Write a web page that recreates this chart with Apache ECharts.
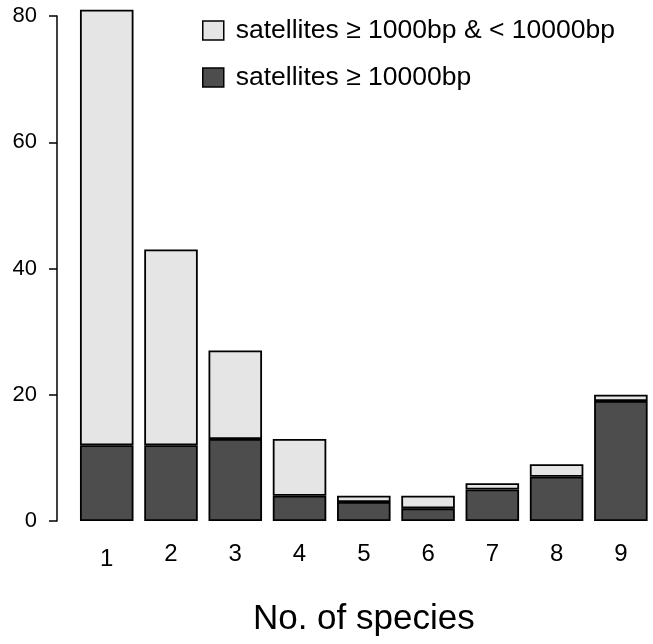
<!DOCTYPE html>
<html>
<head>
<meta charset="utf-8">
<script src="https://cdn.jsdelivr.net/npm/echarts@6/dist/echarts.min.js"></script>
<style>
html,body{margin:0;padding:0;background:#fff;}
#chart{width:653px;height:644px;}
</style>
</head>
<body>
<div id="chart"></div>
<script>
var categories = ['1','2','3','4','5','6','7','8','9'];
var largeSat = [12, 12, 13, 4, 3, 2, 5, 7, 19];       // satellites >= 10000bp
var mediumSat = [69, 31, 14, 9, 1, 2, 1, 2, 1];       // satellites >= 1000bp & < 10000bp
var yTicks = [0, 20, 40, 60, 80];
var seriesNames = ['satellites \u2265 1000bp & < 10000bp', 'satellites \u2265 10000bp'];
var xTitle = 'No. of species';

var FONT = '"Liberation Sans", Arial, Helvetica, sans-serif';
var pxPerUnit = 505 / 80;
var baseY = 521;
var gridLeft = 74.6, gridWidth = 579.6;
var barMax = 82;

var chart = echarts.init(document.getElementById('chart'));
chart.setOption({
  animation: false,
  backgroundColor: '#ffffff',
  textStyle: {fontFamily: FONT, color: '#000'},
  legend: {
    orient: 'vertical',
    left: 202, top: 17,
    padding: 0,
    icon: 'rect',
    itemWidth: 21, itemHeight: 19,
    itemGap: 20,
    data: [
      {name: seriesNames[0], itemStyle: {color: '#e5e5e5', borderColor: '#000', borderWidth: 1.5}},
      {name: seriesNames[1], itemStyle: {color: '#4d4d4d', borderColor: '#000', borderWidth: 1.5}}
    ],
    textStyle: {fontFamily: FONT, fontSize: 26.5, color: '#000', padding: [0,0,0,7]},
    selectedMode: false
  },
  grid: [
    {left: gridLeft, width: gridWidth, top: baseY - barMax * pxPerUnit, height: barMax * pxPerUnit, containLabel: false},
    {left: gridLeft, width: gridWidth, top: baseY - 80 * pxPerUnit, height: 80 * pxPerUnit, containLabel: false}
  ],
  xAxis: [
    {
      type: 'category', gridIndex: 0, data: categories,
      axisLine: {show: false}, axisTick: {show: false},
      axisLabel: {
        fontFamily: FONT, fontSize: 24, color: '#000', margin: 21,
        formatter: function (v, i) { return i === 0 ? '{a|' + v + '}' : v; },
        rich: {a: {fontFamily: FONT, fontSize: 24, color: '#000', padding: [5, 0, 0, 0]}}
      },
      name: xTitle, nameLocation: 'middle', nameGap: 81,
      nameTextStyle: {fontFamily: FONT, fontSize: 35, color: '#000'}
    },
    {
      type: 'category', gridIndex: 1, data: categories, show: false
    }
  ],
  yAxis: [
    {type: 'value', gridIndex: 0, min: 0, max: barMax, show: false, splitLine: {show: false}},
    {
      type: 'value', gridIndex: 1, min: 0, max: 80, interval: 20,
      offset: 17.6,
      axisLine: {show: true, lineStyle: {color: '#000', width: 1.5}},
      axisTick: {show: true, length: 8, lineStyle: {color: '#000', width: 1.5}},
      axisLabel: {fontFamily: FONT, fontSize: 22, color: '#000', margin: 20,
        formatter: function (v) { return yTicks.indexOf(v) >= 0 ? String(v) : ''; }},
      splitLine: {show: false}
    }
  ],
  series: [
    {
      name: seriesNames[1], type: 'bar', stack: 's', xAxisIndex: 0, yAxisIndex: 0,
      data: largeSat, barCategoryGap: '16.7%',
      itemStyle: {color: '#4d4d4d', borderColor: '#000', borderWidth: 1.8}
    },
    {
      name: seriesNames[0], type: 'bar', stack: 's', xAxisIndex: 0, yAxisIndex: 0,
      data: mediumSat, barCategoryGap: '16.7%',
      itemStyle: {color: '#e5e5e5', borderColor: '#000', borderWidth: 1.8}
    }
  ]
});
</script>
</body>
</html>
